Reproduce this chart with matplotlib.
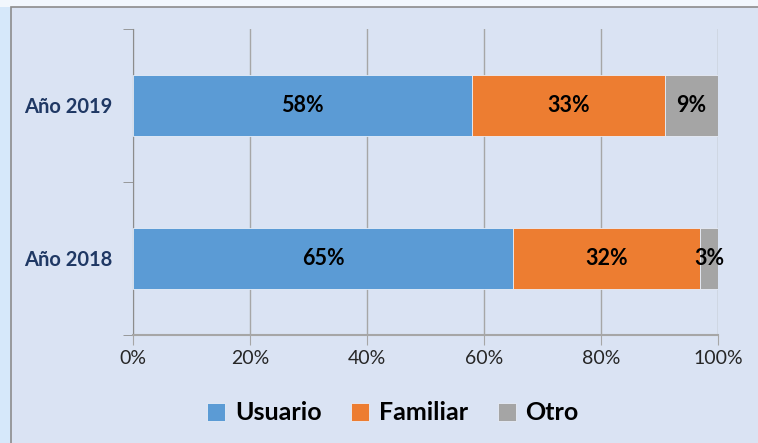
import numpy as np
import matplotlib.pyplot as plt
from matplotlib.patches import Rectangle
from matplotlib.ticker import FixedLocator

plt.rcParams['font.family'] = ['Lato', 'DejaVu Sans']

years = ["Año 2018", "Año 2019"]
series = ["Usuario", "Familiar", "Otro"]
usuario = [65, 58]
familiar = [32, 33]
otro = [3, 9]
colors = ["#5b9bd5", "#ed7d31", "#a5a5a5"]

fig = plt.figure(figsize=(7.58, 4.43), dpi=100)
fig.patch.set_facecolor("#d6e8fa")
# white strip along the top, chart panel below
fig.patches.append(Rectangle((0, 1 - 7 / 443), 1.0, 7 / 443, transform=fig.transFigure,
                             facecolor="#f2f7fd", edgecolor="none", zorder=-11))
panel = Rectangle((11 / 758, -0.01), 1.0, (443 - 7) / 443 + 0.01,
                  transform=fig.transFigure, facecolor="#dae3f3",
                  edgecolor="#8c8c8c", linewidth=1.2, zorder=-10)
fig.patches.append(panel)

ax = fig.add_axes([133 / 758, 1 - 335 / 443, 585 / 758, (335 - 29) / 443])
ax.set_facecolor("none")

y = np.arange(len(years))
h = 0.4
left = np.zeros(len(years))
for name, vals, c in zip(series, [usuario, familiar, otro], colors):
    vals = np.array(vals)
    ax.barh(y, vals, height=h, left=left, color=c, label=name,
            edgecolor="#e8eef8", linewidth=0.6, zorder=3)
    for yi, l, v in zip(y, left, vals):
        ax.text(l + v / 2, yi, f"{v}%", ha="center", va="center",
                fontsize=15.5, fontweight="bold", color="black", zorder=4)
    left = left + vals

ax.set_xlim(0, 100)
ax.set_ylim(-0.5, 1.5)
ax.set_xticks(np.arange(0, 101, 20))
ax.set_xticklabels([f"{v}%" for v in range(0, 101, 20)], fontsize=14, color="#262626")
ax.set_yticks(y)
ax.set_yticklabels(years, fontsize=14.5, fontweight="bold", color="#1f3864")
ax.tick_params(axis="y", length=0, pad=15)
ax.yaxis.set_minor_locator(FixedLocator([-0.5, 0.5, 1.5]))
ax.tick_params(axis="y", which="minor", length=7, color="#8c8c8c")
ax.tick_params(axis="x", length=7, color="#a6a6a6", pad=4)
ax.grid(axis="x", color="#a6a6a6", linewidth=1, zorder=0)
for s in ["top", "right"]:
    ax.spines[s].set_visible(False)
ax.spines["left"].set_color("#8c8c8c")
ax.spines["bottom"].set_color("#a6a6a6")
ax.spines["bottom"].set_linewidth(1.5)

fig.legend(loc="center", bbox_to_anchor=(393 / 758, 1 - 413 / 443), ncol=3,
           frameon=False, prop={"size": 18, "weight": "bold"},
           handlelength=0.7, handleheight=0.7, handletextpad=0.4, columnspacing=1.2)

fig.savefig("out.png", dpi=100, facecolor=fig.get_facecolor())
